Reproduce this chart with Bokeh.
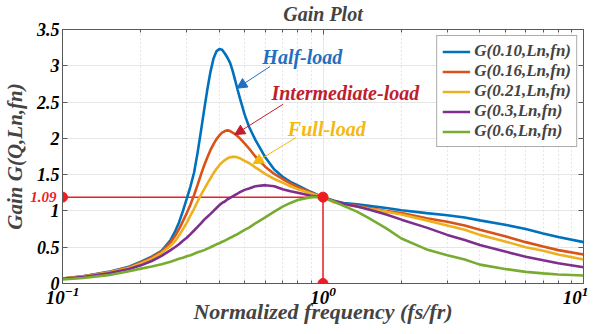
from bokeh.plotting import figure
from bokeh.models import (Range1d, Label, Arrow, NormalHead, Legend, LegendItem,
                          LogAxis, LinearAxis, FixedTicker,
                          LogTickFormatter, CustomLabelingPolicy)
from bokeh.embed import file_html
from bokeh.resources import INLINE

# ---------------- data ----------------
fn = [0.10, 0.12, 0.15, 0.18, 0.20, 0.22, 0.24, 0.26, 0.27, 0.28, 0.29, 0.30, 0.31, 0.32,
      0.33, 0.34, 0.35, 0.36, 0.37, 0.38, 0.39, 0.40, 0.41, 0.42, 0.43, 0.44, 0.45, 0.46,
      0.47, 0.48, 0.50, 0.52, 0.55, 0.60, 0.65, 0.70, 0.75, 0.80, 0.90, 1.0, 1.1, 1.2,
      1.35, 1.5, 1.75, 2.0, 2.5, 3.0, 3.5, 4.0, 5.0, 6.0, 7.0, 8.0, 10.0]

g_010 = [0.07, 0.10, 0.16, 0.23, 0.30, 0.37, 0.45, 0.60, 0.71, 0.84, 1.00, 1.17, 1.34, 1.53,
         1.80, 2.10, 2.40, 2.68, 2.92, 3.10, 3.20, 3.23, 3.22, 3.17, 3.11, 3.04, 2.93, 2.80,
         2.67, 2.55, 2.33, 2.16, 1.98, 1.74, 1.57, 1.47, 1.40, 1.35, 1.26, 1.19, 1.14, 1.11,
         1.09, 1.07, 1.04, 1.01, 0.97, 0.94, 0.91, 0.87, 0.81, 0.75, 0.69, 0.64, 0.57]
g_016 = [0.07, 0.10, 0.155, 0.225, 0.29, 0.36, 0.44, 0.57, 0.65, 0.75, 0.86, 0.97, 1.09, 1.22,
         1.36, 1.50, 1.63, 1.74, 1.84, 1.92, 1.99, 2.04, 2.08, 2.10, 2.11, 2.10, 2.08, 2.06,
         2.03, 2.00, 1.93, 1.86, 1.75, 1.61, 1.51, 1.44, 1.38, 1.33, 1.25, 1.19, 1.13, 1.10,
         1.07, 1.04, 1.00, 0.97, 0.90, 0.85, 0.80, 0.74, 0.65, 0.57, 0.51, 0.46, 0.40]
g_021 = [0.07, 0.095, 0.15, 0.215, 0.275, 0.34, 0.42, 0.52, 0.58, 0.66, 0.75, 0.84, 0.94, 1.03,
         1.13, 1.22, 1.30, 1.38, 1.45, 1.52, 1.58, 1.63, 1.67, 1.70, 1.725, 1.74, 1.745, 1.745,
         1.735, 1.725, 1.69, 1.66, 1.60, 1.51, 1.44, 1.39, 1.34, 1.30, 1.24, 1.19, 1.12, 1.09,
         1.06, 1.03, 0.99, 0.95, 0.87, 0.80, 0.74, 0.67, 0.58, 0.50, 0.45, 0.40, 0.33]
g_030 = [0.065, 0.09, 0.14, 0.20, 0.25, 0.31, 0.38, 0.46, 0.50, 0.54, 0.59, 0.63, 0.68, 0.73,
         0.78, 0.83, 0.88, 0.92, 0.96, 1.00, 1.04, 1.08, 1.11, 1.13, 1.16, 1.18, 1.20, 1.22,
         1.24, 1.26, 1.29, 1.31, 1.34, 1.355, 1.34, 1.30, 1.27, 1.25, 1.21, 1.19, 1.14, 1.10,
         1.06, 1.02, 0.95, 0.88, 0.77, 0.67, 0.60, 0.53, 0.44, 0.37, 0.32, 0.28, 0.225]
g_060 = [0.055, 0.075, 0.115, 0.17, 0.205, 0.235, 0.265, 0.30, 0.32, 0.34, 0.355, 0.375, 0.39, 0.41,
         0.43, 0.445, 0.46, 0.48, 0.50, 0.52, 0.54, 0.555, 0.575, 0.59, 0.61, 0.63, 0.645, 0.665,
         0.68, 0.70, 0.74, 0.77, 0.83, 0.91, 0.99, 1.06, 1.11, 1.15, 1.19, 1.19, 1.13, 1.07,
         0.99, 0.90, 0.76, 0.62, 0.47, 0.39, 0.33, 0.26, 0.20, 0.16, 0.14, 0.125, 0.11]

series = [g_010, g_016, g_021, g_030, g_060]
labels = ["G(0.10,Ln,fn)", "G(0.16,Ln,fn)", "G(0.21,Ln,fn)", "G(0.3,Ln,fn)", "G(0.6,Ln,fn)"]
colors = ["#0072BD", "#D95319", "#EDB120", "#7E2F8E", "#77AC30"]

ytick_vals = [0, 0.5, 1, 1.5, 2, 2.5, 3, 3.5]
ytick_labels = ["0", "0.5", "1", "1.5", "2", "2.5", "3", "3.5"]
xtick_vals = [0.1, 1, 10]
xminor_vals = [0.2, 0.3, 0.4, 0.5, 0.6, 0.7, 0.8, 0.9, 2, 3, 4, 5, 6, 7, 8, 9]

marker_fn = 1.0
marker_gain = 1.19
marker_text = "1.09"

notes = [("Half-load", 0.585, 3.12, "#1F6FC2", 0.626, 2.99, 0.467, 2.69),
         ("Intermediate-load", 0.634, 2.63, "#BE1E2D", 0.703, 2.47, 0.458, 2.05),
         ("Full-load", 0.733, 2.13, "#F5B80F", 0.787, 2.01, 0.539, 1.65)]

FONT = "Liberation Serif"
RED = "#EE1D23"
AX = "#5a5a5a"

p = figure(width=588, height=326, x_axis_type="log",
           x_range=Range1d(0.1, 10), y_range=Range1d(0, 3.5),
           output_backend="svg", toolbar_location=None,
           min_border_left=40, min_border_right=5, min_border_top=24, min_border_bottom=40)

p.title.text = "Gain Plot"
p.title.align = "center"
p.title.text_font = FONT
p.title.text_font_style = "bold italic"
p.title.text_font_size = "20px"
p.title.standoff = 0

# grids
p.ygrid.grid_line_color = "#e6e6e6"
p.xgrid.grid_line_color = "#e6e6e6"
p.xgrid.minor_grid_line_color = "#cfcfcf"
p.xgrid.minor_grid_line_dash = "1 3"
p.outline_line_color = AX
p.outline_line_width = 1

xticker = FixedTicker(ticks=xtick_vals, minor_ticks=xminor_vals)
yticker = FixedTicker(ticks=ytick_vals)
p.xaxis.ticker = xticker
p.xaxis.formatter = LogTickFormatter()
p.yaxis.ticker = yticker
p.yaxis.major_label_overrides = {v: s for v, s in zip(ytick_vals, ytick_labels)}
for ax in (p.xaxis[0], p.yaxis[0]):
    ax.major_label_text_font = FONT
    ax.major_label_text_font_style = "bold italic"
    ax.major_label_text_color = "black"
    ax.axis_line_color = AX
    ax.major_tick_in = 5
    ax.major_tick_out = 0
    ax.minor_tick_in = 3
    ax.minor_tick_out = 0
    ax.major_tick_line_color = AX
    ax.minor_tick_line_color = AX
p.xaxis.major_label_text_font_size = "19px"
p.yaxis.major_label_text_font_size = "18px"
p.yaxis.minor_tick_line_color = None
p.xaxis.axis_label = "Normalized frequency (fs/fr)"
p.xaxis.axis_label_text_font = FONT
p.xaxis.axis_label_text_font_style = "bold italic"
p.xaxis.axis_label_text_font_size = "22px"
p.xaxis.axis_label_standoff = -8
p.xaxis.major_label_standoff = 3
p.yaxis.major_label_standoff = 3

# outer left axis: carries the red "1.09" mark label (pulled back next to the frame) and the axis title
mark_axis = LinearAxis(ticker=FixedTicker(ticks=[marker_gain]),
                       major_label_overrides={marker_gain: marker_text},
                       major_label_text_color=RED, major_label_text_font=FONT,
                       major_label_text_font_style="bold italic",
                       major_label_text_font_size="15px", major_label_standoff=-29,
                       axis_line_color=None, major_tick_line_color=None,
                       minor_tick_line_color=None,
                       axis_label="Gain G(Q,Ln,fn)", axis_label_text_font=FONT,
                       axis_label_text_font_style="bold italic",
                       axis_label_text_font_size="21px", axis_label_standoff=0)
p.add_layout(mark_axis, "left")

hide = "for (const i of indices) indices.unset(i); return indices"
top = LogAxis(ticker=xticker, major_label_policy=CustomLabelingPolicy(code=hide),
              major_label_text_font_size="1px", major_label_standoff=0,
              axis_line_color=None, major_tick_in=5, major_tick_out=0,
              minor_tick_in=3, minor_tick_out=0, major_tick_line_color=AX,
              minor_tick_line_color=AX)
right = LinearAxis(ticker=yticker, major_label_policy=CustomLabelingPolicy(code=hide),
                   major_label_text_font_size="1px", major_label_standoff=0,
                   axis_line_color=None, major_tick_in=5, major_tick_out=0,
                   minor_tick_line_color=None, major_tick_line_color=AX)
p.add_layout(top, "above")
p.add_layout(right, "right")

# red marker lines
p.line([0.1, marker_fn], [marker_gain, marker_gain], line_color=RED, line_width=1.5)
p.line([marker_fn, marker_fn], [marker_gain, 0], line_color=RED, line_width=1.5)

items = []
for ys, lab, c in zip(series, labels, colors):
    r = p.line(fn, ys, line_color=c, line_width=2.6)
    items.append(LegendItem(label=lab, renderers=[r]))

p.scatter([0.1, marker_fn, marker_fn], [marker_gain, marker_gain, 0], size=10,
          fill_color=RED, line_color=RED)

for txt, tx, ty, c, xs, ys_, xe, ye in notes:
    p.add_layout(Label(x=tx, y=ty, text=txt, text_align="left", text_baseline="middle",
                       text_color=c, text_font=FONT, text_font_style="bold italic",
                       text_font_size="20px"))
    p.add_layout(Arrow(x_start=xs, y_start=ys_, x_end=xe, y_end=ye, line_color=c, line_width=1,
                       end=NormalHead(size=10, fill_color=c, line_color=c)))

legend = Legend(items=items, location="top_right")
legend.label_text_font = FONT
legend.label_text_font_style = "bold italic"
legend.label_text_font_size = "17px"
legend.label_height = 17
legend.glyph_height = 17
legend.glyph_width = 28
legend.spacing = 0
legend.padding = 5
legend.margin = 6
legend.label_standoff = 4
legend.border_line_color = AX
legend.background_fill_alpha = 1
p.add_layout(legend, "center")

open("out.html", "w").write(file_html(p, INLINE))
